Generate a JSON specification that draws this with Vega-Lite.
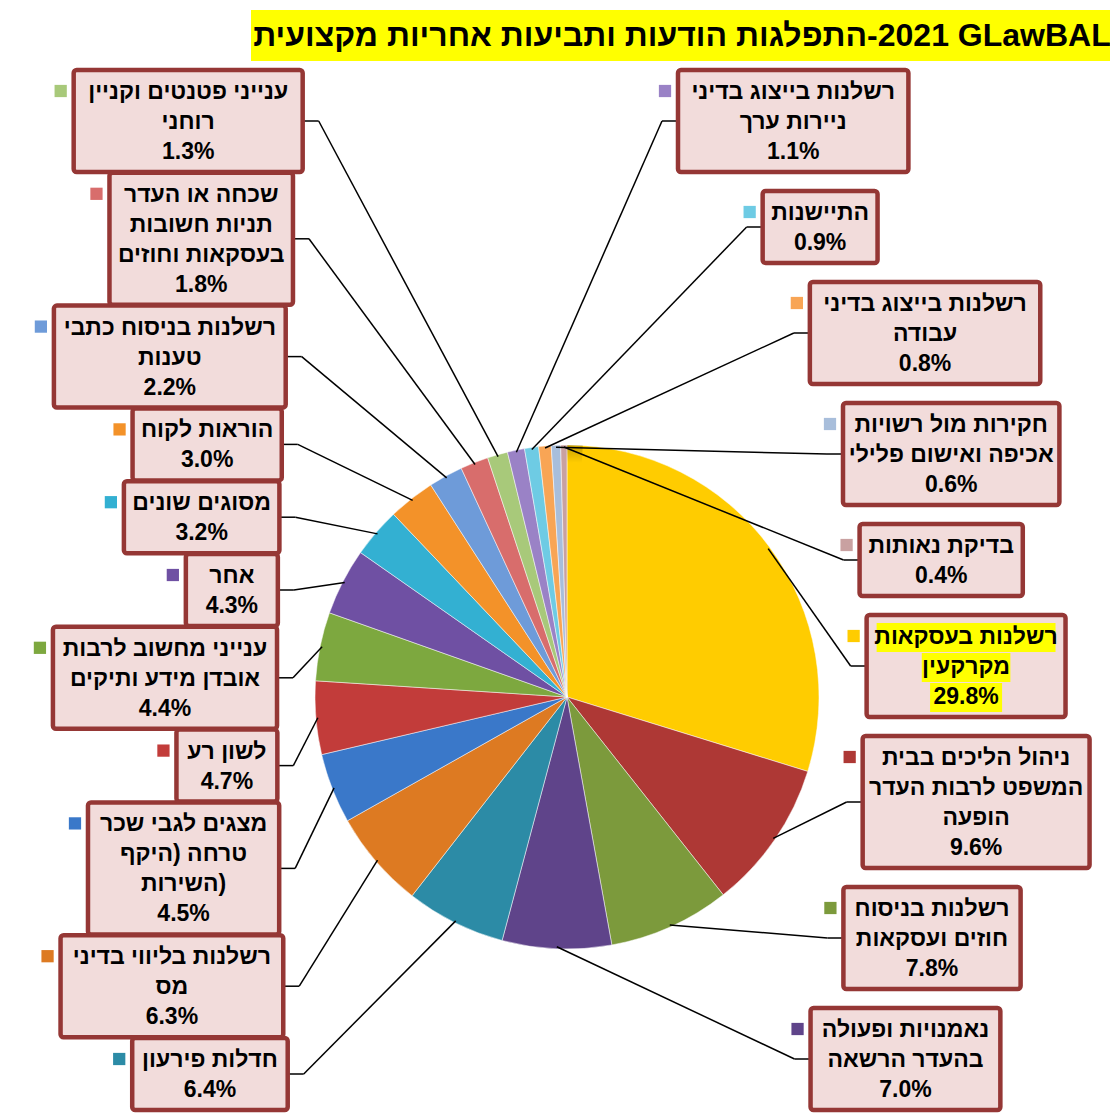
{
  "$schema": "https://vega.github.io/schema/vega-lite/v6.json",
  "padding": {"top": 10, "left": 0, "right": 0, "bottom": 0},
  "background": "#ffffff",
  "spacing": 0,
  "params": [
    {"name": "CX", "value": 567},
    {"name": "CY", "value": 697},
    {"name": "R", "value": 252},
    {"name": "SPREAD", "value": 3},
    {"name": "ROT", "value": 40},
    {"name": "WW", "value": 14.0},
    {"name": "WN", "value": 6.3},
    {"name": "LH", "value": 30},
    {"name": "PAD", "value": 12},
    {"name": "YT", "value": 70},
    {"name": "YB", "value": 1110},
    {"name": "EL", "value": 290},
    {"name": "ER", "value": 300},
    {"name": "DYL", "value": 1400},
    {"name": "DYR", "value": 620}
  ],
  "config": {"view": {"stroke": null}, "font": "Liberation Sans", "concat": {"spacing": 0}},
  "vconcat": [
    {
      "hconcat": [
        {
          "width": 248, "height": 51,
          "data": {"values": [{"t": ""}]},
          "mark": {"type": "text"},
          "encoding": {"text": {"field": "t"}}
        },
        {
          "width": 862, "height": 51,
          "view": {"fill": "#FFFF00", "stroke": null},
          "data": {"values": [{"t": "התפלגות הודעות ותביעות אחריות מקצועית\u200e-2021  GLawBAL"}]},
          "mark": {"type": "text", "fontSize": 32, "fontWeight": "bold", "font": "Liberation Sans", "color": "#000000", "align": "center", "baseline": "middle"},
          "encoding": {"text": {"field": "t"}}
        }
      ],
      "spacing": 0
    },
    {
      "width": 1110,
      "height": 1056,
      "data": {"values": [
        {"label": "רשלנות בעסקאות\nמקרקעין", "value": 29.8},
        {"label": "ניהול הליכים בבית\nהמשפט לרבות העדר\nהופעה", "value": 9.6},
        {"label": "רשלנות בניסוח\nחוזים ועסקאות", "value": 7.8},
        {"label": "נאמנויות ופעולה\nבהעדר הרשאה", "value": 7.0},
        {"label": "חדלות פירעון", "value": 6.4},
        {"label": "רשלנות בליווי בדיני\nמס", "value": 6.3},
        {"label": "מצגים לגבי שכר\nטרחה (היקף\nהשירות)", "value": 4.5},
        {"label": "לשון רע", "value": 4.7},
        {"label": "ענייני מחשוב לרבות\nאובדן מידע ותיקים", "value": 4.4},
        {"label": "אחר", "value": 4.3},
        {"label": "מסוגים שונים", "value": 3.2},
        {"label": "הוראות לקוח", "value": 3.0},
        {"label": "רשלנות בניסוח כתבי\nטענות", "value": 2.2},
        {"label": "שכחה או העדר\nתניות חשובות\nבעסקאות וחוזים", "value": 1.8},
        {"label": "ענייני פטנטים וקניין\nרוחני", "value": 1.3},
        {"label": "רשלנות בייצוג בדיני\nניירות ערך", "value": 1.1},
        {"label": "התיישנות", "value": 0.9},
        {"label": "רשלנות בייצוג בדיני\nעבודה", "value": 0.8},
        {"label": "חקירות מול רשויות\nאכיפה ואישום פלילי", "value": 0.6},
        {"label": "בדיקת נאותות", "value": 0.4}
      ]},
      "transform": [
        {"window": [{"op": "row_number", "as": "idx"}, {"op": "sum", "field": "value", "as": "cum"}], "frame": [null, 0]},
        {"joinaggregate": [{"op": "sum", "field": "value", "as": "total"}, {"op": "count", "as": "n"}, {"op": "max", "field": "value", "as": "maxv"}]},
        {"calculate": "CX", "as": "pcx"},
        {"calculate": "CY", "as": "pcy"},
        {"calculate": "2*PI*(datum.cum - datum.value/2)/datum.total", "as": "mida"},
        {"calculate": "(360*((datum.cum - datum.value/2) + SPREAD*(datum.idx - 0.5))/(datum.total + SPREAD*datum.n) + ROT) % 360", "as": "la"},
        {"calculate": "datum.la < 180 ? 'R' : 'L'", "as": "side"},
        {"calculate": "datum.side == 'R' ? datum.la : 360 - datum.la", "as": "key"},
        {"calculate": "split(datum.label, '\\n')", "as": "ls"},
        {"calculate": "datum.label + '\\n' + format(datum.value, '.1f') + '%'", "as": "txt"},
        {"calculate": "length(datum.ls) + 1", "as": "nl"},
        {"calculate": "datum.ls[0] || ''", "as": "l0"},
        {"calculate": "datum.ls[1] || ''", "as": "l1"},
        {"calculate": "datum.ls[2] || ''", "as": "l2"},
        {"calculate": "length(replace(datum.l0, regexp('[יון ()]', 'g'), ''))", "as": "k0"},
        {"calculate": "length(replace(datum.l1, regexp('[יון ()]', 'g'), ''))", "as": "k1"},
        {"calculate": "length(replace(datum.l2, regexp('[יון ()]', 'g'), ''))", "as": "k2"},
        {"calculate": "datum.k0 * WW + (length(datum.l0) - datum.k0) * WN", "as": "w0"},
        {"calculate": "datum.k1 * WW + (length(datum.l1) - datum.k1) * WN", "as": "w1"},
        {"calculate": "datum.k2 * WW + (length(datum.l2) - datum.k2) * WN", "as": "w2"},
        {"calculate": "66", "as": "wp"},
        {"calculate": "max(datum.w0, datum.w1, datum.w2, datum.wp) + 26", "as": "bw"},
        {"calculate": "datum.nl * LH + PAD", "as": "bh"},
        {"window": [{"op": "row_number", "as": "rk"}, {"op": "sum", "field": "bh", "as": "cumh"}], "groupby": ["side"], "sort": [{"field": "key", "order": "ascending"}], "frame": [null, 0]},
        {"joinaggregate": [{"op": "sum", "field": "bh", "as": "Ht"}, {"op": "count", "as": "ns"}], "groupby": ["side"]},
        {"calculate": "YT + datum.cumh - datum.bh + (datum.rk - 1) * (YB - YT - datum.Ht) / max(1, datum.ns - 1)", "as": "btop"},
        {"calculate": "datum.btop + datum.bh", "as": "bbot"},
        {"calculate": "datum.btop + datum.bh/2", "as": "bcy"},
        {"calculate": "datum.btop + PAD/2 + LH/2 + 1", "as": "ty"},
        {"calculate": "datum.side == 'R' ? ER * sqrt(max(0, 1 - pow((datum.bcy - CY)/DYR, 2))) : EL * sqrt(max(0, 1 - pow((datum.bcy - CY)/DYL, 2)))", "as": "ed"},
        {"calculate": "datum.side == 'R' ? CX + datum.ed : CX - datum.ed - datum.bw", "as": "bx1"},
        {"calculate": "datum.bx1 + datum.bw", "as": "bx2"},
        {"calculate": "(datum.bx1 + datum.bx2)/2", "as": "bcx"},
        {"calculate": "datum.side == 'R' ? datum.bx1 : datum.bx2", "as": "ax"},
        {"calculate": "datum.side == 'R' ? datum.ax - 16 : datum.ax + 16", "as": "ex"},
        {"calculate": "CX + (R - 2) * sin(datum.mida)", "as": "px"},
        {"calculate": "CY - (R - 2) * cos(datum.mida)", "as": "py"},
        {"calculate": "datum.bx1 - 13", "as": "sqx"},
        {"calculate": "datum.btop + 21", "as": "sqy"}
      ],
      "layer": [
        {
          "mark": {"type": "arc", "outerRadius": 252, "stroke": "#ffffff", "strokeWidth": 0.7, "strokeOpacity": 0.7},
          "encoding": {
            "theta": {"field": "value", "type": "quantitative", "stack": true},
            "order": {"field": "idx", "type": "quantitative"},
            "x": {"field": "pcx", "type": "quantitative", "scale": {"type": "linear", "domain": [0, 1110], "nice": false, "zero": false}, "axis": null},
            "y": {"field": "pcy", "type": "quantitative", "scale": {"type": "linear", "domain": [61, 1117], "nice": false, "zero": false, "reverse": true}, "axis": null},
            "color": {"field": "idx", "type": "nominal", "legend": null,
              "scale": {"domain": [1,2,3,4,5,6,7,8,9,10,11,12,13,14,15,16,17,18,19,20],
                        "range": ["#FFCC00","#AE3835","#7C9A3C","#5F448A","#2C8BA6","#DD7A22","#3A78C9","#C23C3A","#7DA83F","#6F50A3","#33B0D2","#F39229","#6E9BD9","#D86D6C","#A8C97A","#9A82C6","#6ECBE4","#F8A555","#A8BEDB","#C9A1A1"]}}
          }
        },
        {
          "data": {"values": [{"v": 1}]},
          "transform": [{"calculate": "CX", "as": "pcx"}, {"calculate": "CY", "as": "pcy"}],
          "mark": {"type": "arc", "outerRadius": 252, "fill": {"gradient": "radial", "stops": [{"offset": 0, "color": "rgba(0,0,0,0)"}, {"offset": 0.86, "color": "rgba(0,0,0,0)"}, {"offset": 1, "color": "rgba(0,0,0,0.22)"}]}},
          "encoding": {
            "theta": {"field": "v", "type": "quantitative", "stack": true},
            "x": {"field": "pcx", "type": "quantitative", "scale": {"type": "linear", "domain": [0, 1110], "nice": false, "zero": false}, "axis": null},
            "y": {"field": "pcy", "type": "quantitative", "scale": {"type": "linear", "domain": [61, 1117], "nice": false, "zero": false, "reverse": true}, "axis": null}
          }
        },
        {
          "mark": {"type": "rule", "color": "#000000", "strokeWidth": 1.5},
          "encoding": {
            "x": {"field": "px", "type": "quantitative", "scale": {"type": "linear", "domain": [0, 1110], "nice": false, "zero": false}, "axis": null},
            "y": {"field": "py", "type": "quantitative", "scale": {"type": "linear", "domain": [61, 1117], "nice": false, "zero": false, "reverse": true}, "axis": null},
            "x2": {"field": "ex"},
            "y2": {"field": "bcy"}
          }
        },
        {
          "mark": {"type": "rule", "color": "#000000", "strokeWidth": 1.5},
          "encoding": {
            "x": {"field": "ex", "type": "quantitative", "scale": {"type": "linear", "domain": [0, 1110], "nice": false, "zero": false}, "axis": null},
            "y": {"field": "bcy", "type": "quantitative", "scale": {"type": "linear", "domain": [61, 1117], "nice": false, "zero": false, "reverse": true}, "axis": null},
            "x2": {"field": "ax"},
            "y2": {"field": "bcy"}
          }
        },
        {
          "mark": {"type": "rect", "fill": "#F2DCDB", "stroke": "#953735", "strokeWidth": 4.5, "cornerRadius": 3},
          "encoding": {
            "x": {"field": "bx1", "type": "quantitative", "scale": {"type": "linear", "domain": [0, 1110], "nice": false, "zero": false}, "axis": null},
            "x2": {"field": "bx2"},
            "y": {"field": "btop", "type": "quantitative", "scale": {"type": "linear", "domain": [61, 1117], "nice": false, "zero": false, "reverse": true}, "axis": null},
            "y2": {"field": "bbot"}
          }
        },
        {
          "transform": [
            {"filter": "datum.value == datum.maxv"},
            {"calculate": "datum.nl == 2 ? [datum.w0, datum.wp] : datum.nl == 3 ? [datum.w0, datum.w1, datum.wp] : [datum.w0, datum.w1, datum.w2, datum.wp]", "as": "lws"},
            {"calculate": "sequence(0, datum.nl)", "as": "lks"},
            {"flatten": ["lws", "lks"], "as": ["lw", "lk"]},
            {"calculate": "datum.bcx - datum.lw/2 - 3", "as": "hx1"},
            {"calculate": "datum.bcx + datum.lw/2 + 3", "as": "hx2"},
            {"calculate": "datum.btop + PAD/2 + datum.lk * LH + 2", "as": "hy1"},
            {"calculate": "datum.btop + PAD/2 + (datum.lk + 1) * LH + 1", "as": "hy2"}
          ],
          "mark": {"type": "rect", "fill": "#FFFF00"},
          "encoding": {
            "x": {"field": "hx1", "type": "quantitative", "scale": {"type": "linear", "domain": [0, 1110], "nice": false, "zero": false}, "axis": null},
            "x2": {"field": "hx2"},
            "y": {"field": "hy1", "type": "quantitative", "scale": {"type": "linear", "domain": [61, 1117], "nice": false, "zero": false, "reverse": true}, "axis": null},
            "y2": {"field": "hy2"}
          }
        },
        {
          "mark": {"type": "point", "shape": "square", "filled": true, "size": 150, "opacity": 1},
          "encoding": {
            "x": {"field": "sqx", "type": "quantitative", "scale": {"type": "linear", "domain": [0, 1110], "nice": false, "zero": false}, "axis": null},
            "y": {"field": "sqy", "type": "quantitative", "scale": {"type": "linear", "domain": [61, 1117], "nice": false, "zero": false, "reverse": true}, "axis": null},
            "color": {"field": "idx", "type": "nominal", "legend": null}
          }
        },
        {
          "mark": {"type": "text", "fontSize": 23, "fontWeight": "bold", "font": "Liberation Sans", "color": "#000000", "align": "center", "baseline": "middle", "lineHeight": 30, "lineBreak": "\n", "dir": "rtl"},
          "encoding": {
            "x": {"field": "bcx", "type": "quantitative", "scale": {"type": "linear", "domain": [0, 1110], "nice": false, "zero": false}, "axis": null},
            "y": {"field": "ty", "type": "quantitative", "scale": {"type": "linear", "domain": [61, 1117], "nice": false, "zero": false, "reverse": true}, "axis": null},
            "text": {"field": "txt"}
          }
        }
      ]
    }
  ]
}
